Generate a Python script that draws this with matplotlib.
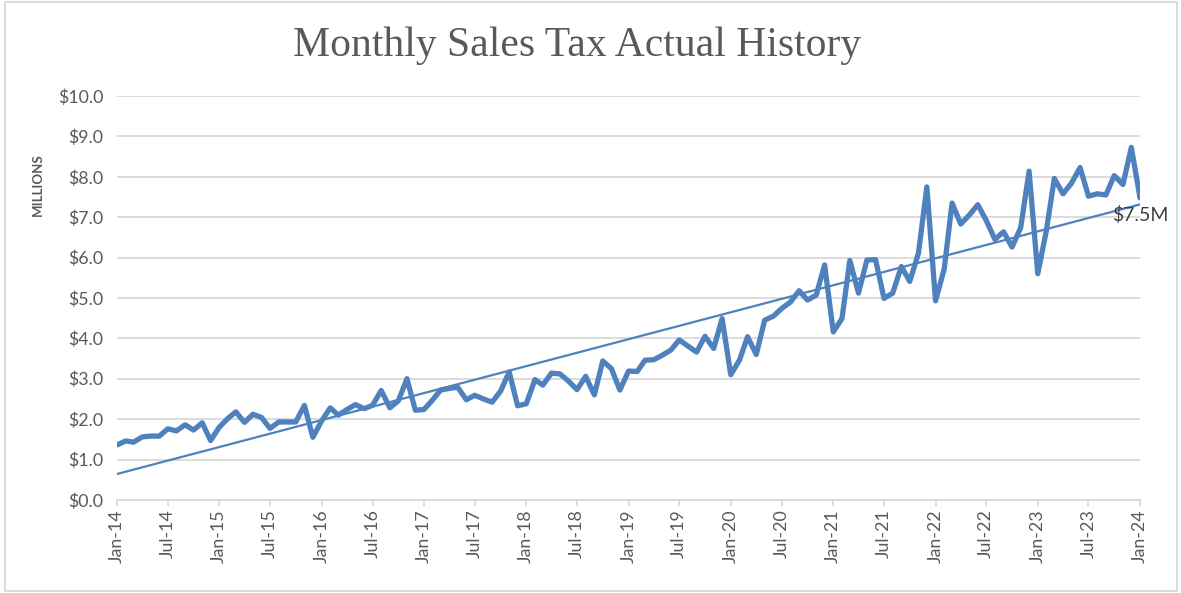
import numpy as np
import pandas as pd
import matplotlib
matplotlib.use("Agg")
import matplotlib.pyplot as plt
import matplotlib.dates as mdates
from matplotlib.patches import Rectangle

# Monthly sales tax, millions of dollars, Jan-2014 .. Jan-2024
months = pd.date_range("2014-01-01", "2024-01-01", freq="MS")
sales_tax = [
    1.36, 1.46, 1.43, 1.56, 1.58, 1.58, 1.76, 1.71, 1.86, 1.73, 1.91, 1.47,
    1.80, 2.02, 2.18, 1.92, 2.12, 2.04, 1.77, 1.93, 1.93, 1.93, 2.34, 1.55,
    1.95, 2.28, 2.10, 2.24, 2.36, 2.26, 2.34, 2.71, 2.28, 2.45, 3.00, 2.22,
    2.24, 2.48, 2.72, 2.76, 2.79, 2.48, 2.59, 2.50, 2.42, 2.69, 3.17, 2.33,
    2.38, 2.98, 2.84, 3.14, 3.12, 2.94, 2.73, 3.06, 2.60, 3.44, 3.25, 2.72,
    3.19, 3.18, 3.46, 3.47, 3.58, 3.71, 3.96, 3.81, 3.66, 4.05, 3.75, 4.49,
    3.10, 3.46, 4.04, 3.60, 4.45, 4.55, 4.74, 4.90, 5.18, 4.95, 5.07, 5.82,
    4.16, 4.49, 5.93, 5.12, 5.94, 5.95, 4.99, 5.12, 5.78, 5.41, 6.11, 7.75,
    4.93, 5.72, 7.35, 6.83, 7.05, 7.31, 6.92, 6.45, 6.64, 6.26, 6.74, 8.14,
    5.60, 6.68, 7.96, 7.58, 7.84, 8.23, 7.52, 7.58, 7.55, 8.03, 7.81, 8.73,
    7.48,
]
y_ticks = np.arange(0, 11, 1)

blue = "#4f81bd"
gray = "#595959"
grid = "#d9d9d9"

plt.rcParams["font.family"] = ["Lato", "DejaVu Sans"]

fig = plt.figure(figsize=(11.81, 5.93), dpi=100)
ax = fig.add_axes([0.0991, 0.157, 0.8662, 0.681])

x_num = mdates.date2num(months)
ax.plot(months, sales_tax, color=blue, lw=3.8, solid_joinstyle="round",
        solid_capstyle="round", zorder=3)

# linear trendline
coef = np.polyfit(x_num, sales_tax, 1)
trend = np.polyval(coef, x_num)
ax.plot(months, trend, color=blue, lw=1.6, zorder=2)

# data label on last point
ax.annotate(f"${sales_tax[-1]:.1f}M", (months[-1], sales_tax[-1]),
            xytext=(0, -6), textcoords="offset points", ha="center", va="top",
            fontsize=14, color="#404040", zorder=4)

ax.set_ylim(0, 10)
ax.set_xlim(months[0], months[-1])
ax.set_yticks(y_ticks)
ax.set_yticklabels([f"${v:.1f}" for v in y_ticks])
ax.yaxis.grid(True, color=grid, lw=1.3)
ax.set_axisbelow(True)

ax.xaxis.set_major_locator(mdates.MonthLocator(bymonth=[1, 7]))
ax.xaxis.set_major_formatter(mdates.DateFormatter("%b-%y"))
plt.setp(ax.get_xticklabels(), rotation=90)

for s in ["top", "right", "left"]:
    ax.spines[s].set_visible(False)
ax.spines["bottom"].set_color(grid)
ax.spines["bottom"].set_linewidth(1.3)
ax.tick_params(axis="x", colors=grid, labelcolor=gray, length=4, width=1.3,
               pad=3, labelsize=12.8)
ax.tick_params(axis="y", length=0, pad=10, labelcolor=gray, labelsize=12.8)

fig.text(0.032, 0.688, "MILLIONS", rotation=90, ha="center", va="center",
         fontsize=9.5, fontweight="bold", color=gray)

fig.suptitle("Monthly Sales Tax Actual History", x=0.489, y=0.955, va="top",
             fontsize=30, color=gray, family=["Liberation Serif", "DejaVu Serif"])

fig.add_artist(Rectangle((0.004, 0.004), 0.993, 0.993, transform=fig.transFigure,
                         fill=False, edgecolor=grid, lw=1.3))

fig.savefig("out.png", dpi=100)
